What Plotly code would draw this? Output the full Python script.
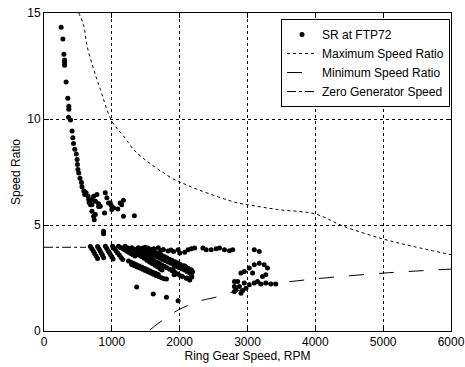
import plotly.graph_objects as go

# ---- Data ----
# SR at FTP72 scatter (Ring gear speed RPM, speed ratio)
sr_upper_x = [253, 278, 293, 303, 303, 303, 326, 351, 366, 366, 362, 391, 414, 425, 435, 454, 476, 488,
              493, 500, 512, 530, 552, 560, 586, 600, 620, 649, 659, 665, 684, 707, 707, 707, 732, 732,
              740, 757, 757, 780, 805, 805, 830, 893, 903, 927, 952, 977, 991, 1000, 1025, 1088, 1123,
              1146, 1171, 1171, 1332, 878, 878]
sr_upper_y = [14.33, 13.77, 13.06, 12.78, 12.66, 12.54, 11.75, 10.98, 10.6, 10.46, 10.08, 9.95, 9.43, 9.12,
              8.85, 8.57, 8.35, 8.09, 7.85, 7.62, 7.45, 7.2, 7.0, 6.8, 6.6, 6.44, 6.52, 6.36, 6.2, 6.06,
              5.96, 6.2, 5.96, 5.65, 6.36, 5.41, 5.25, 6.12, 5.5, 6.44, 6.0, 5.87, 5.88, 5.57, 6.52, 6.28,
              6.04, 6.04, 5.92, 5.73, 5.81, 5.76, 6.04, 5.96, 6.17, 5.41, 5.44, 4.7, 4.59]

streak_x = [684, 705, 726, 747, 768, 790,
            790, 808, 826, 844, 862, 880,
            905, 924, 943, 962, 981, 1000, 1018,
            1010, 1035, 1060, 1085, 1110, 1135, 1160,
            1098, 1128, 1158, 1188, 1218, 1248, 1278, 1310, 1342,
            1196, 1236, 1276, 1316, 1356, 1396, 1436, 1476, 1516, 1556, 1596, 1636, 1676, 1716, 1740,
            1293, 1333, 1373, 1413, 1453, 1493, 1533, 1573, 1613, 1653, 1693, 1733, 1773, 1813, 1853,
            1893, 1933, 1973, 2013, 2040,
            1245, 1285, 1325, 1365, 1405, 1445, 1485, 1525, 1565, 1605, 1645, 1684,
            1293, 1333, 1373, 1413, 1453, 1493, 1533, 1573, 1613, 1653, 1693, 1733, 1770, 1805,
            1390, 1430, 1470, 1510, 1550, 1590, 1630, 1670, 1710, 1750, 1790, 1830, 1870, 1910, 1950,
            1990, 2030, 2070, 2110, 2150,
            1489, 1530, 1570, 1610, 1650, 1690, 1730, 1770, 1810, 1850, 1890, 1930, 1970, 2010, 2050,
            2090, 2130, 2171]
streak_y = [3.99, 3.88, 3.77, 3.66, 3.54, 3.42,
            3.99, 3.89, 3.79, 3.68, 3.57, 3.46,
            4.0, 3.9, 3.8, 3.7, 3.6, 3.5, 3.4,
            4.0, 3.89, 3.79, 3.68, 3.58, 3.47, 3.37,
            4.0, 3.94, 3.89, 3.83, 3.77, 3.72, 3.66, 3.60, 3.54,
            4.0, 3.92, 3.84, 3.75, 3.67, 3.59, 3.51, 3.43, 3.34, 3.26, 3.18, 3.10, 3.02, 2.93, 2.88,
            3.93, 3.86, 3.78, 3.71, 3.64, 3.56, 3.49, 3.42, 3.34, 3.27, 3.20, 3.12, 3.05, 2.98, 2.91,
            2.83, 2.76, 2.69, 2.61, 2.57,
            3.30, 3.24, 3.18, 3.12, 3.07, 3.01, 2.95, 2.89, 2.83, 2.77, 2.72, 2.66,
            3.14, 3.08, 3.02, 2.97, 2.91, 2.85, 2.80, 2.74, 2.68, 2.62, 2.57, 2.51, 2.47, 2.45,
            3.93, 3.87, 3.81, 3.74, 3.68, 3.62, 3.56, 3.50, 3.43, 3.37, 3.31, 3.25, 3.19, 3.12, 3.06,
            3.0, 2.94, 2.88, 2.81, 2.75,
            3.95, 3.89, 3.83, 3.76, 3.70, 3.64, 3.58, 3.52, 3.45, 3.39, 3.33, 3.27, 3.21, 3.14, 3.08,
            3.02, 2.95, 2.89]

band_x = [1450, 1530, 1580, 1620, 1684, 1720, 1760, 1830, 1870, 1910, 1977, 2001, 2074, 2123, 2171,
          2221, 2343, 2391, 2464, 2537, 2587, 2660, 2734, 2782, 3100, 3173]
band_y = [3.9, 3.92, 3.85, 3.88, 3.93, 3.8, 3.85, 3.77, 3.82, 3.75, 3.83, 3.68, 3.72, 3.83, 3.88,
          3.91, 3.91, 3.83, 3.83, 3.88, 3.91, 3.83, 3.79, 3.83, 3.83, 3.75]

misc_x = [2074, 2100, 2123, 2148, 2171, 2190, 2148, 2110, 2180, 2098, 2050,
          1366, 1611, 1805, 1977, 1918, 1586, 1684, 1903, 1952,
          2904, 2953, 3026, 3100, 3173, 3246, 3294, 3075, 3221, 3270,
          2807, 2807, 2807, 2855, 2880, 2953, 3026, 3100, 3148, 3196, 3270, 3343, 3416,
          2977, 2830, 2928, 2904]
misc_y = [3.07, 2.95, 2.85, 2.74, 2.65, 2.8, 2.41, 2.5, 2.55, 2.49, 2.97,
          2.07, 1.75, 1.59, 1.43, 2.65, 3.22, 3.06, 2.9, 3.14,
          2.73, 2.81, 2.97, 3.12, 3.2, 3.12, 2.97, 2.73, 2.57, 2.65,
          2.33, 2.1, 1.86, 2.33, 2.1, 2.26, 2.18, 2.26, 2.33, 2.22, 2.26, 2.22, 2.22,
          2.02, 1.94, 1.91, 1.78]

sr_x = sr_upper_x + streak_x + band_x + misc_x
sr_y = sr_upper_y + streak_y + band_y + misc_y

# Maximum speed ratio curve
max_x = [512, 586, 634, 732, 830, 1000, 1171, 1366, 1879, 1977, 2269, 2855, 3000, 3441, 4000, 4417,
         5000, 5442, 6000]
max_y = [15.0, 14.4, 13.46, 12.35, 11.4, 9.9, 9.2, 8.41, 7.22, 7.07, 6.67, 6.04, 5.96, 5.73, 5.52,
         4.94, 4.34, 3.99, 3.6]

# Minimum speed ratio curve
min_x = [1562, 1684, 1830, 1977, 2269, 2562, 2709, 3000, 3196, 3539, 4000, 5000, 6000]
min_y = [0.05, 0.36, 0.68, 0.99, 1.39, 1.62, 1.78, 2.02, 2.2, 2.3, 2.46, 2.73, 2.92]

# Zero generator speed
zg_x = [0, 620]
zg_y = [3.95, 3.95]

x_ticks = [0, 1000, 2000, 3000, 4000, 5000, 6000]
y_ticks = [0, 5, 10, 15]

FONT = "Liberation Sans, Arial, sans-serif"

fig = go.Figure()
fig.add_trace(go.Scatter(x=sr_x, y=sr_y, mode="markers", name="SR at FTP72",
                         marker=dict(color="black", size=5, line=dict(width=0))))
fig.add_trace(go.Scatter(x=max_x, y=max_y, mode="lines", name="Maximum Speed Ratio",
                         line=dict(color="black", width=1, dash="dot", shape="spline")))
fig.add_trace(go.Scatter(x=min_x, y=min_y, mode="lines", name="Minimum Speed Ratio",
                         line=dict(color="black", width=1, dash="longdash", shape="spline")))
fig.add_trace(go.Scatter(x=zg_x, y=zg_y, mode="lines", name="Zero Generator Speed",
                         line=dict(color="black", width=1, dash="dashdot")))

axis_common = dict(showline=True, linecolor="black", linewidth=1, mirror="allticks",
                   ticks="inside", ticklen=5, tickcolor="black", showgrid=True,
                   gridcolor="black", gridwidth=1, griddash="dot", zeroline=False,
                   automargin=False, ticklabeloverflow="allow",
                   tickfont=dict(family=FONT, size=12, color="black"))

fig.update_xaxes(range=[0, 6000], tickvals=x_ticks, ticktext=[str(v) for v in x_ticks],
                 title=dict(text="Ring Gear Speed, RPM", font=dict(family=FONT, size=12, color="black"),
                            standoff=2),
                 **axis_common)
fig.update_yaxes(range=[0, 15], tickvals=y_ticks, ticktext=[str(v) for v in y_ticks],
                 title=dict(text="Speed Ratio", font=dict(family=FONT, size=12, color="black"),
                            standoff=4),
                 **axis_common)

fig.update_layout(
    width=465, height=367,
    margin=dict(l=44, r=14, t=13, b=36),
    paper_bgcolor="white", plot_bgcolor="white",
    font=dict(family=FONT, size=12, color="black"),
    showlegend=True,
    legend=dict(x=0.9976, y=0.981, xanchor="right", yanchor="top",
                bgcolor="white", bordercolor="black", borderwidth=1,
                font=dict(family=FONT, size=12, color="black"),
                tracegroupgap=0, itemwidth=30),
)

fig.write_html("out.html", config={"displayModeBar": False},
               post_script="document.body.style.margin='0';document.body.style.overflow='hidden';")
